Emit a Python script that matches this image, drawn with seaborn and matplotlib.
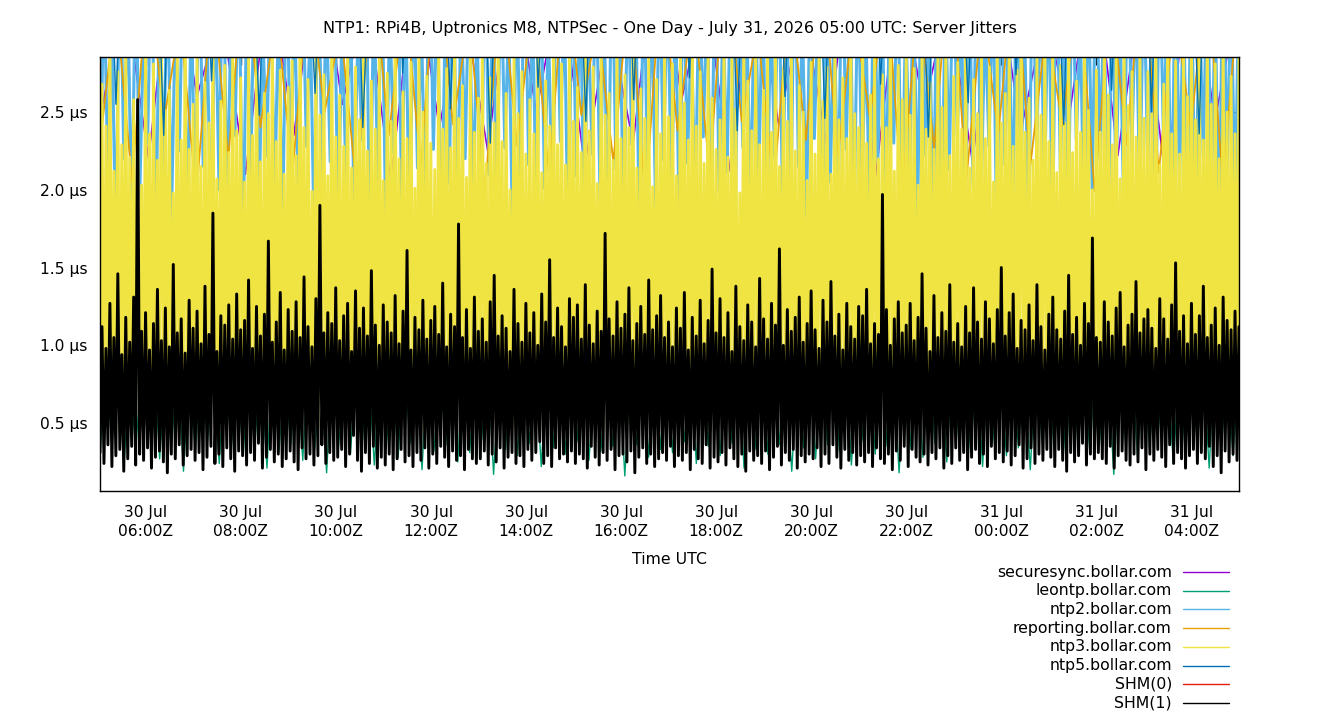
import numpy as np
import pandas as pd
import matplotlib
matplotlib.use("Agg")
import matplotlib.pyplot as plt
import matplotlib.dates as mdates
from matplotlib.lines import Line2D
import seaborn as sns

sns.set_style('white')
plt.rcParams['font.family'] = ['DejaVu Sans']
plt.rcParams['text.color'] = 'black'
plt.rcParams['axes.labelcolor'] = 'black'
plt.rcParams['xtick.color'] = 'black'
plt.rcParams['ytick.color'] = 'black'

# one day, 05:02 -> 05:00 UTC
start = pd.Timestamp('2026-07-30 05:02')
end = pd.Timestamp('2026-07-31 05:00')

# jitter values in hundredths of a microsecond
shm1 = [
    31,112,24,98,36,127,22,105,29,146,33,94,19,118,27,102,35,131,23,258,30,109,26,121,
    34,97,21,114,28,136,32,103,25,124,18,99,30,152,27,108,36,117,23,95,29,129,33,111,
    26,122,31,101,20,138,28,107,35,185,24,96,30,119,22,113,34,126,27,104,19,133,32,110,
    29,116,23,142,31,98,26,125,37,106,21,120,28,167,33,102,25,115,30,134,22,97,27,123,
    32,109,25,128,20,105,34,144,27,112,30,99,23,130,29,190,36,108,24,121,31,114,26,137,
    28,103,33,119,22,127,30,96,42,135,26,111,19,124,31,106,24,148,35,113,21,100,28,126,
    23,115,30,108,20,132,27,101,33,122,25,161,29,97,22,118,31,110,26,129,34,104,21,116,
    30,125,24,107,35,140,28,99,22,120,32,112,26,178,29,105,20,123,33,98,27,131,24,109,
    27,117,32,102,23,128,30,145,25,106,34,119,21,111,28,96,31,136,24,114,29,102,22,127,
    33,108,26,121,31,100,38,133,24,115,29,155,22,105,34,124,27,112,30,99,25,130,32,118,
    24,126,30,104,27,139,21,113,35,101,28,122,23,109,31,172,26,117,33,106,20,128,29,111,
    30,120,25,137,32,103,18,114,28,125,34,107,24,142,30,110,22,119,27,132,31,105,26,115,
    35,99,22,124,29,111,26,134,31,97,20,118,33,106,27,129,24,101,36,116,21,149,28,108,
    25,130,31,105,23,121,34,96,27,138,22,112,30,103,19,126,32,115,26,99,29,143,24,117,
    32,104,20,127,28,113,35,162,23,100,31,123,26,109,33,118,21,131,29,102,25,114,30,135,
    27,110,34,98,22,129,30,115,24,141,36,106,28,120,21,97,33,127,26,112,31,104,23,125,
    29,119,25,136,31,101,22,114,34,107,27,197,24,123,30,100,20,117,32,128,26,108,35,113,
    22,127,33,103,28,118,25,146,30,111,23,96,31,132,27,105,34,121,21,109,29,139,24,102,
    34,114,26,99,31,125,20,108,28,137,33,115,24,104,30,128,22,117,35,101,27,123,31,150,
    25,106,32,121,23,133,29,98,36,116,21,110,27,126,34,103,24,139,30,112,26,97,33,120,
    28,131,22,110,33,104,26,122,19,145,31,107,25,118,29,100,37,127,23,114,30,169,27,105,
    31,102,27,128,24,115,35,106,21,124,29,134,32,99,26,113,23,120,30,141,25,108,34,117,
    20,123,30,111,26,98,33,130,28,117,22,104,36,126,24,153,31,109,27,119,21,101,29,127,
    33,107,24,119,31,138,27,105,35,113,22,124,29,100,18,131,32,116,25,110,30,122,26,112,
]

ntp3 = [
    62,268,48,241,71,305,55,212,80,276,44,229,67,292,59,221,75,258,50,247,83,203,46,296,
    70,236,53,281,64,219,86,300,49,251,72,264,57,198,81,287,45,232,68,310,60,226,77,255,
    52,289,74,215,47,269,66,243,85,302,58,207,69,257,51,280,78,224,63,295,46,238,73,272,
    65,205,50,284,79,235,56,306,70,218,48,262,84,249,61,298,53,231,76,277,45,210,68,266,
    57,283,82,222,49,316,71,240,60,271,54,199,77,290,47,248,66,274,88,209,52,299,74,234,
    69,261,55,228,80,294,46,214,63,279,75,245,50,308,67,225,58,270,83,239,48,286,72,206,
    54,275,78,244,61,301,47,220,73,263,56,233,85,282,51,201,70,293,59,250,45,273,66,230,
    74,213,49,297,68,239,81,278,53,227,62,304,47,246,76,267,58,208,71,288,50,237,84,259,
    60,298,73,217,52,272,87,243,48,312,65,231,57,262,79,200,46,285,69,249,62,276,54,223,
    77,258,51,236,64,291,45,211,72,270,59,241,83,303,55,229,67,281,49,216,75,296,61,244,
    48,266,70,224,56,307,82,238,50,279,68,204,63,286,46,248,74,262,58,219,80,300,53,233,
    66,274,47,240,75,293,57,214,69,265,52,246,86,285,60,202,71,271,49,236,64,299,55,247,
    58,281,76,209,51,297,65,256,84,232,47,309,70,241,56,276,62,217,79,289,45,259,73,226,
    71,245,54,301,67,221,50,284,80,252,59,198,74,305,48,270,66,238,57,292,83,229,52,264,
    49,286,72,237,61,311,55,215,77,277,64,244,46,296,69,225,53,267,81,250,58,206,75,282,
    63,223,47,292,78,257,54,279,66,210,85,301,50,245,72,272,57,233,68,306,48,249,76,240,
    56,302,70,230,59,261,45,289,82,220,53,274,67,240,74,313,51,212,64,280,79,258,47,294,
    73,248,62,278,48,203,68,299,55,239,76,269,60,226,84,287,49,253,71,300,57,222,66,273,
    51,282,77,239,64,305,58,214,70,271,46,249,81,293,55,233,67,279,52,205,75,291,60,243,
    68,262,49,295,73,228,56,277,62,318,79,237,47,259,65,219,83,285,53,248,70,307,58,231,
    60,290,71,211,54,280,66,243,48,300,75,224,61,270,52,237,78,302,57,251,69,200,46,277,
    76,237,58,305,50,261,80,229,63,286,55,207,72,296,47,254,67,276,60,234,85,293,53,246,
    54,276,67,249,45,299,74,216,58,268,69,312,51,236,77,283,62,223,48,290,71,260,56,303,
    70,245,52,288,63,232,81,304,56,255,47,281,75,220,59,298,66,250,50,273,78,236,61,285,
]

ntp2 = [
    185,340,205,310,160,365,220,325,175,350,195,305,230,370,155,330,210,345,180,315,225,360,170,320,
    190,355,215,300,165,335,200,375,185,310,235,350,158,325,208,362,178,305,222,342,192,318,168,358,
    212,328,182,348,228,308,162,368,198,322,218,352,172,312,202,338,188,302,232,364,157,332,206,346,
    176,316,224,356,194,326,166,344,214,306,184,372,226,334,159,314,204,354,179,324,220,340,191,309,
    169,361,210,329,183,349,227,311,163,339,197,366,216,319,173,353,201,304,187,343,231,323,156,359,
    209,333,181,313,223,347,193,321,167,363,213,307,177,337,229,317,161,351,203,327,189,341,219,336,
    196,322,171,357,217,303,186,345,234,327,164,367,199,314,211,349,174,331,227,306,183,361,207,338,
    160,318,221,352,190,335,170,365,215,309,181,343,233,324,158,356,205,312,187,369,226,329,175,347,
    202,306,165,358,218,333,194,321,230,351,168,315,209,339,179,362,222,304,186,346,161,328,213,354,
    235,317,177,342,203,367,192,310,228,336,163,353,216,323,184,348,208,301,171,359,224,332,197,344,
    166,364,211,319,188,350,232,308,174,341,200,357,219,326,159,338,206,313,182,368,225,330,195,345,
    214,311,178,355,229,334,169,360,204,320,189,347,157,327,221,352,198,316,172,363,212,337,185,340,
]

reporting = [
    230,320,205,340,245,310,195,330,220,350,240,315,210,335,250,305,200,345,235,325,215,355,242,312,
    198,338,228,322,208,348,248,308,218,332,192,342,238,318,212,352,244,302,202,328,232,344,222,314,
    246,336,196,324,226,354,206,316,236,346,216,306,241,334,199,326,229,349,211,319,239,341,204,331,
]

securesync = [
    245,330,220,355,260,315,210,340,235,360,255,325,205,345,240,320,225,350,250,335,215,310,230,365,
    258,328,212,348,242,318,228,358,208,338,252,322,218,342,238,312,248,352,222,332,202,362,244,326,
]

ntp5 = [
    380,410,255,395,430,370,405,385,235,420,390,440,375,400,270,388,425,392,415,378,248,408,398,435,
    382,412,372,262,402,394,428,386,418,240,376,406,396,432,275,384,422,374,414,390,252,404,380,426,
    393,230,411,379,436,387,401,266,373,419,397,409,383,244,427,391,403,377,423,258,389,413,371,431,
    407,381,272,417,395,429,385,400,238,392,421,376,410,398,260,388,434,382,406,246,394,416,378,424,
    386,402,268,390,430,374,412,396,234,408,384,420,380,256,404,392,426,388,414,274,376,400,398,418,
    382,242,422,390,406,386,428,264,394,410,378,432,250,396,416,384,402,372,236,424,388,408,380,420,
]

leontp = [
    30,85,36,92,22,80,33,88,38,95,27,83,35,90,19,86,31,93,37,81,24,89,34,84,
    29,91,39,87,21,94,32,82,36,88,26,96,33,85,18,90,35,83,30,92,38,86,23,89,
    34,84,28,91,37,87,20,93,32,80,36,88,25,95,31,85,39,90,17,82,33,87,29,92,
    37,86,22,89,34,94,30,83,38,91,26,88,32,84,35,93,16,81,36,90,28,87,33,85,
    31,89,38,83,24,92,35,86,29,90,37,95,21,84,33,88,30,91,36,82,19,87,34,93,
    27,85,36,90,32,94,23,81,38,88,30,92,35,86,18,89,33,83,28,91,37,87,25,95,
    39,84,31,89,22,93,36,82,29,90,34,86,20,92,37,88,32,85,26,91,35,83,30,94,
    33,87,17,90,36,84,28,93,34,89,38,81,24,86,31,92,36,88,21,95,33,83,29,90,
]

shm0 = [1820, 2450, 1590, 3100, 2170, 2730, 1740, 3580, 2290, 1960, 2810, 1630]

series = [
    ('securesync.bollar.com', securesync, '#9400D3', 1.2),
    ('leontp.bollar.com', leontp, '#009E73', 1.0),
    ('ntp2.bollar.com', ntp2, '#56B4E9', 2.2),
    ('reporting.bollar.com', reporting, '#E69F00', 1.3),
    ('ntp3.bollar.com', ntp3, '#F0E442', 2.05),
    ('ntp5.bollar.com', ntp5, '#0072B2', 1.0),
    ('SHM(0)', shm0, '#E51E10', 1.0),
    ('SHM(1)', shm1, 'black', 2.1),
]

fig = plt.figure(figsize=(13.4, 7.2), dpi=100)
ax = fig.add_axes([100/1340, 1 - 491/720, 1139/1340, 434/720])

for name, vals, col, lw in series:
    t = pd.date_range(start, end, periods=len(vals))
    y = np.array(vals) / 100.0
    sns.lineplot(x=t, y=y, color=col, linewidth=lw, ax=ax, estimator=None, legend=False)

ax.set_xlim(start, end)
ax.set_ylim(0.063, 2.854)
ax.set_yticks([0.5, 1.0, 1.5, 2.0, 2.5])
ax.yaxis.set_major_formatter(plt.FuncFormatter(lambda v, p: f'{v:.1f} µs'))
ax.xaxis.set_major_locator(mdates.HourLocator(byhour=range(0, 24, 2)))
ax.xaxis.set_major_formatter(mdates.DateFormatter('%d %b\n%H:%MZ'))
ax.tick_params(direction='in', length=6, width=1, labelsize=11.2, top=True, right=True)
ax.tick_params(axis='x', pad=10)
ax.tick_params(axis='y', pad=9)
for lab in ax.get_xticklabels():
    lab.set_linespacing(1.35)
for s in ax.spines.values():
    s.set_color('black')
    s.set_linewidth(1)
    s.set_zorder(10)
ax.set_xlabel('Time UTC', fontsize=11.3, labelpad=9)
ax.set_ylabel('')

fig.text(0.5, 1 - 29/720, 'NTP1: RPi4B, Uptronics M8, NTPSec - One Day - July 31, 2026 05:00 UTC: Server Jitters',
         ha='center', va='center', fontsize=11.5)

# gnuplot style key, bottom right
for i, (name, vals, col, lw) in enumerate(series):
    y = 1 - (572 + i * 18.7) / 720
    fig.text(1172/1340, y, name, ha='right', va='center', fontsize=11.3)
    fig.add_artist(Line2D([1183/1340, 1229/1340], [y, y], color=col, linewidth=1))

fig.savefig('out.png', dpi=100)
